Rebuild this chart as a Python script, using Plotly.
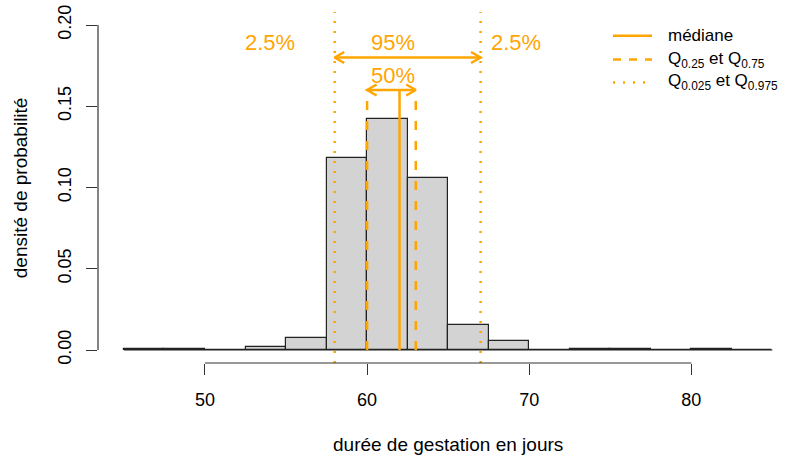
import numpy as np
import plotly.graph_objects as go

# Histogram of gestation durations (density scale), bins of 2.5 days
breaks = [45, 47.5, 50, 52.5, 55, 57.5, 60, 62.5, 65, 67.5, 70, 72.5, 75, 77.5, 80, 82.5, 85]
density = [0.0004, 0.0004, 0.0, 0.0017, 0.0072, 0.1183, 0.1422, 0.1056,
           0.0154, 0.0057, 0.0, 0.0004, 0.0004, 0.0, 0.0004, 0.0]

# Quantiles of the distribution
median = 62
q25, q75 = 60, 63
q025, q975 = 58, 67

# Heights of the quantile segments / arrows
seg_top = 0.16
arrow95_y = 0.18
arrow50_y = 0.16

x_ticks = [50, 60, 70, 80]
y_ticks = [0.00, 0.05, 0.10, 0.15, 0.20]
y_tick_text = ["0.00", "0.05", "0.10", "0.15", "0.20"]

ORANGE = "#FFA500"
FONT = "Liberation Sans, Arial, sans-serif"

# layout geometry
W, H = 792, 455
ML, MR, MT, MB = 98, 0, 12, 92
x_range = [43.4, 86.21]
y_range = [-0.008, 0.208]
px_per_x = (W - ML - MR) / (x_range[1] - x_range[0])
px_per_y = (H - MT - MB) / (y_range[1] - y_range[0])


def px_to_paper_x(px):
    return (px - ML) / (W - ML - MR)


def px_to_paper_y(py):
    return (H - MB - py) / (H - MT - MB)


centers = [(a + b) / 2 for a, b in zip(breaks[:-1], breaks[1:])]
widths = [b - a for a, b in zip(breaks[:-1], breaks[1:])]

fig = go.Figure()

# outline of empty bins along the baseline
fig.add_trace(go.Scatter(x=[breaks[0], breaks[-1]], y=[0, 0], mode="lines",
                         line=dict(color="#222", width=1), hoverinfo="skip"))

fig.add_trace(go.Bar(x=centers, y=density, width=widths,
                     marker=dict(color="#D3D3D3", line=dict(color="#222", width=1.2)),
                     hoverinfo="skip"))

# median and quartiles
fig.add_trace(go.Scatter(x=[median, median], y=[0, seg_top], mode="lines",
                         line=dict(color=ORANGE, width=2.5), hoverinfo="skip"))
for q in (q25, q75):
    fig.add_trace(go.Scatter(x=[q, q], y=[0, seg_top], mode="lines",
                             line=dict(color=ORANGE, width=2.5, dash="9px,11px"),
                             hoverinfo="skip"))

shapes = []
# 2.5% / 97.5% quantiles span the whole plotting region
for q in (q025, q975):
    shapes.append(dict(type="line", xref="x", yref="paper", x0=q, x1=q, y0=0, y1=1,
                       line=dict(color=ORANGE, width=2.5, dash="2px,8px")))

# axis lines limited to the tick range
shapes.append(dict(type="line", xref="x", yref="paper", x0=x_ticks[0], x1=x_ticks[-1],
                   y0=0, y1=0, line=dict(color="#333", width=1.2)))
shapes.append(dict(type="line", xref="paper", yref="y", x0=0, x1=0,
                   y0=y_ticks[0], y1=y_ticks[-1], line=dict(color="#333", width=1.2)))


def double_arrow(x0, x1, y):
    """Horizontal segment with open arrow heads at both ends."""
    L, ang = 11.0, np.radians(30)
    dx = L * np.cos(ang) / px_per_x
    dy = L * np.sin(ang) / px_per_y
    fig.add_trace(go.Scatter(x=[x0, x1], y=[y, y], mode="lines",
                             line=dict(color=ORANGE, width=2.5), hoverinfo="skip"))
    for tip, s in ((x0, 1), (x1, -1)):
        fig.add_trace(go.Scatter(x=[tip + s * dx, tip, tip + s * dx],
                                 y=[y + dy, y, y - dy], mode="lines",
                                 line=dict(color=ORANGE, width=2.5), hoverinfo="skip"))


double_arrow(q025, q975, arrow95_y)
double_arrow(q25, q75, arrow50_y)

annotations = []
pct_font = dict(family=FONT, size=22, color=ORANGE)
for x, y, t in ((54, 0.1892, "2.5%"), (61.6, 0.1892, "95%"),
                (69.2, 0.1892, "2.5%"), (61.6, 0.1687, "50%")):
    annotations.append(dict(x=x, y=y, xref="x", yref="y", text=t, showarrow=False,
                            font=pct_font, xanchor="center", yanchor="middle"))

# axis titles
annotations.append(dict(x=65, y=px_to_paper_y(444), xref="x", yref="paper",
                        text="durée de gestation en jours", showarrow=False,
                        font=dict(family=FONT, size=19, color="black"),
                        xanchor="center", yanchor="middle"))
annotations.append(dict(x=px_to_paper_x(20.7), y=0.5, xref="paper", yref="paper",
                        text="densité de probabilité", showarrow=False, textangle=-90,
                        font=dict(family=FONT, size=19, color="black"),
                        xanchor="center", yanchor="middle"))

# legend drawn by hand
legend_items = [
    ("médiane", "solid", 35.7),
    ("Q<sub>0.25</sub> et Q<sub>0.75</sub>", "8px,8px", 59.5),
    ("Q<sub>0.025</sub> et Q<sub>0.975</sub>", "2px,8px", 82.5),
]
for label, dash, py in legend_items:
    shapes.append(dict(type="line", xref="paper", yref="paper",
                       x0=px_to_paper_x(613), x1=px_to_paper_x(652),
                       y0=px_to_paper_y(py), y1=px_to_paper_y(py),
                       line=dict(color=ORANGE, width=2.5, dash=dash)))
    annotations.append(dict(x=px_to_paper_x(666), y=px_to_paper_y(py), xref="paper",
                            yref="paper", text=label, showarrow=False,
                            font=dict(family=FONT, size=17, color="black"),
                            xanchor="left", yanchor="middle"))

fig.update_layout(
    width=W, height=H,
    margin=dict(l=ML, r=MR, t=MT, b=MB, pad=0),
    plot_bgcolor="white", paper_bgcolor="white",
    showlegend=False, bargap=0,
    font=dict(family=FONT, size=18, color="black"),
    shapes=shapes, annotations=annotations,
    xaxis=dict(range=x_range, tickvals=x_ticks, ticks="outside", ticklen=11,
               tickcolor="#333", tickwidth=1.2, showline=False, showgrid=False,
               zeroline=False, ticklabelstandoff=9,
               tickfont=dict(family=FONT, size=18, color="black")),
    yaxis=dict(range=y_range, tickvals=y_ticks, ticktext=y_tick_text, ticks="outside",
               ticklen=11, tickcolor="#333", tickwidth=1.2, tickangle=-90,
               showline=False, showgrid=False, zeroline=False, ticklabelstandoff=8,
               tickfont=dict(family=FONT, size=18, color="black")),
)

fig.write_html("out.html")
